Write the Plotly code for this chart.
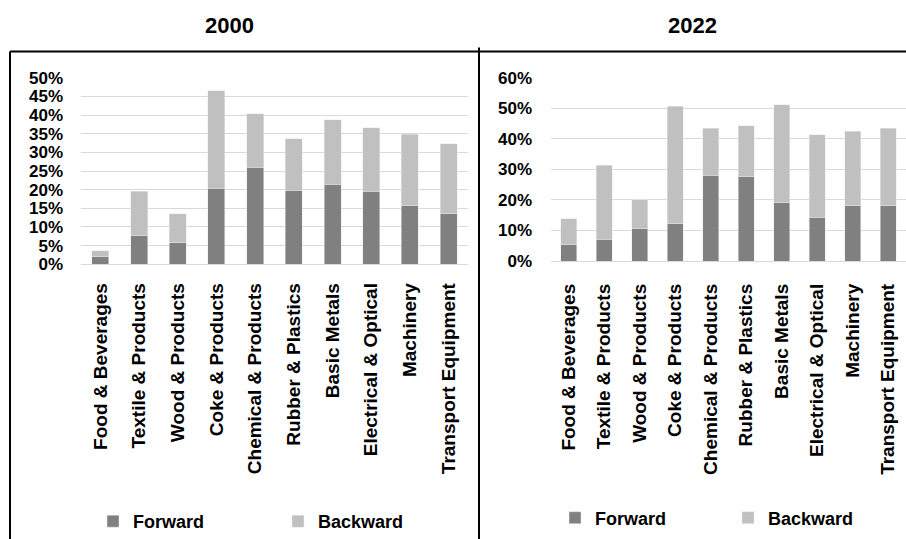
import plotly.graph_objects as go

categories = ["Food & Beverages", "Textile & Products", "Wood & Products", "Coke & Products",
              "Chemical & Products", "Rubber & Plastics", "Basic Metals", "Electrical & Optical",
              "Machinery", "Transport Equipment"]

forward_2000 = [0.020, 0.076, 0.058, 0.204, 0.260, 0.199, 0.214, 0.196, 0.157, 0.136]
backward_2000 = [0.016, 0.120, 0.078, 0.261, 0.144, 0.138, 0.173, 0.170, 0.192, 0.187]

forward_2022 = [0.053, 0.071, 0.105, 0.122, 0.280, 0.276, 0.191, 0.143, 0.181, 0.181]
backward_2022 = [0.086, 0.243, 0.095, 0.385, 0.154, 0.167, 0.321, 0.270, 0.244, 0.253]

y_ticks_2000 = [0, 0.05, 0.10, 0.15, 0.20, 0.25, 0.30, 0.35, 0.40, 0.45, 0.50]
y_ticks_2022 = [0, 0.1, 0.2, 0.3, 0.4, 0.5, 0.6]

FWD = "#808080"
BWD = "#c0c0c0"
FONT = "Arial, 'Liberation Sans', sans-serif"
W, H = 906, 539

def px(x):
    return x / W

def py(y):
    return (H - y) / H

fig = go.Figure()
fig.add_trace(go.Bar(x=categories, y=forward_2000, name="Forward", marker_color=FWD,
                     xaxis="x", yaxis="y", legend="legend"))
fig.add_trace(go.Bar(x=categories, y=backward_2000, name="Backward", marker_color=BWD,
                     xaxis="x", yaxis="y", legend="legend"))
fig.add_trace(go.Bar(x=categories, y=forward_2022, name="Forward", marker_color=FWD,
                     xaxis="x2", yaxis="y2", legend="legend2"))
fig.add_trace(go.Bar(x=categories, y=backward_2022, name="Backward", marker_color=BWD,
                     xaxis="x2", yaxis="y2", legend="legend2"))

tickfont = dict(family=FONT, size=17, color="black", weight="bold")
catfont = dict(family=FONT, size=19, color="black", weight="bold")
legfont = dict(family=FONT, size=18, color="black", weight="bold")

common_x = dict(tickangle=-90, tickfont=catfont, showgrid=False, showline=False,
                ticks="", zeroline=False, automargin=False)
common_y = dict(tickformat=".0%", tickfont=tickfont, showgrid=True, gridcolor="#d9d9d9",
                gridwidth=1, zeroline=True, zerolinecolor="#d9d9d9", zerolinewidth=1,
                showline=False, ticks="", automargin=False)

fig.update_layout(
    width=W, height=H,
    margin=dict(l=0, r=0, t=0, b=0, pad=0, autoexpand=False),
    paper_bgcolor="white", plot_bgcolor="white",
    barmode="stack", bargap=0.56,
    xaxis=dict(domain=[px(81), px(468)], anchor="y", ticklabelstandoff=14, **common_x),
    yaxis=dict(domain=[py(264.3), py(77.7)], range=[0, 0.5], tickvals=y_ticks_2000,
               anchor="x", ticklabelstandoff=17, **common_y),
    xaxis2=dict(domain=[px(551), 1.0], anchor="y2", ticklabelstandoff=18, **common_x),
    yaxis2=dict(domain=[py(261), py(77.7)], range=[0, 0.6], tickvals=y_ticks_2022,
                anchor="x2", ticklabelstandoff=18, **common_y),
    legend=dict(orientation="h", x=px(93), y=py(521.5), xanchor="left", yanchor="middle",
                font=legfont, entrywidth=140, entrywidthmode="pixels",
                bgcolor="rgba(0,0,0,0)", traceorder="normal"),
    legend2=dict(orientation="h", x=px(555), y=py(518), xanchor="left", yanchor="middle",
                 font=legfont, entrywidth=128, entrywidthmode="pixels",
                 bgcolor="rgba(0,0,0,0)", traceorder="normal"),
    annotations=[
        dict(text="2000", x=px(229), y=py(26), xref="paper", yref="paper", showarrow=False,
             xanchor="center", yanchor="middle",
             font=dict(family=FONT, size=22, color="black", weight="bold")),
        dict(text="2022", x=px(692), y=py(26), xref="paper", yref="paper", showarrow=False,
             xanchor="center", yanchor="middle",
             font=dict(family=FONT, size=22, color="black", weight="bold")),
    ],
    shapes=[
        dict(type="line", xref="paper", yref="paper", x0=px(10), x1=1.0, y0=py(51.5), y1=py(51.5),
             line=dict(color="black", width=2)),
        dict(type="line", xref="paper", yref="paper", x0=px(10), x1=px(10), y0=py(51.5), y1=0,
             line=dict(color="black", width=2)),
        dict(type="line", xref="paper", yref="paper", x0=px(479), x1=px(479), y0=py(47.5), y1=0,
             line=dict(color="black", width=2)),
    ],
)

fig.write_html("out.html")
